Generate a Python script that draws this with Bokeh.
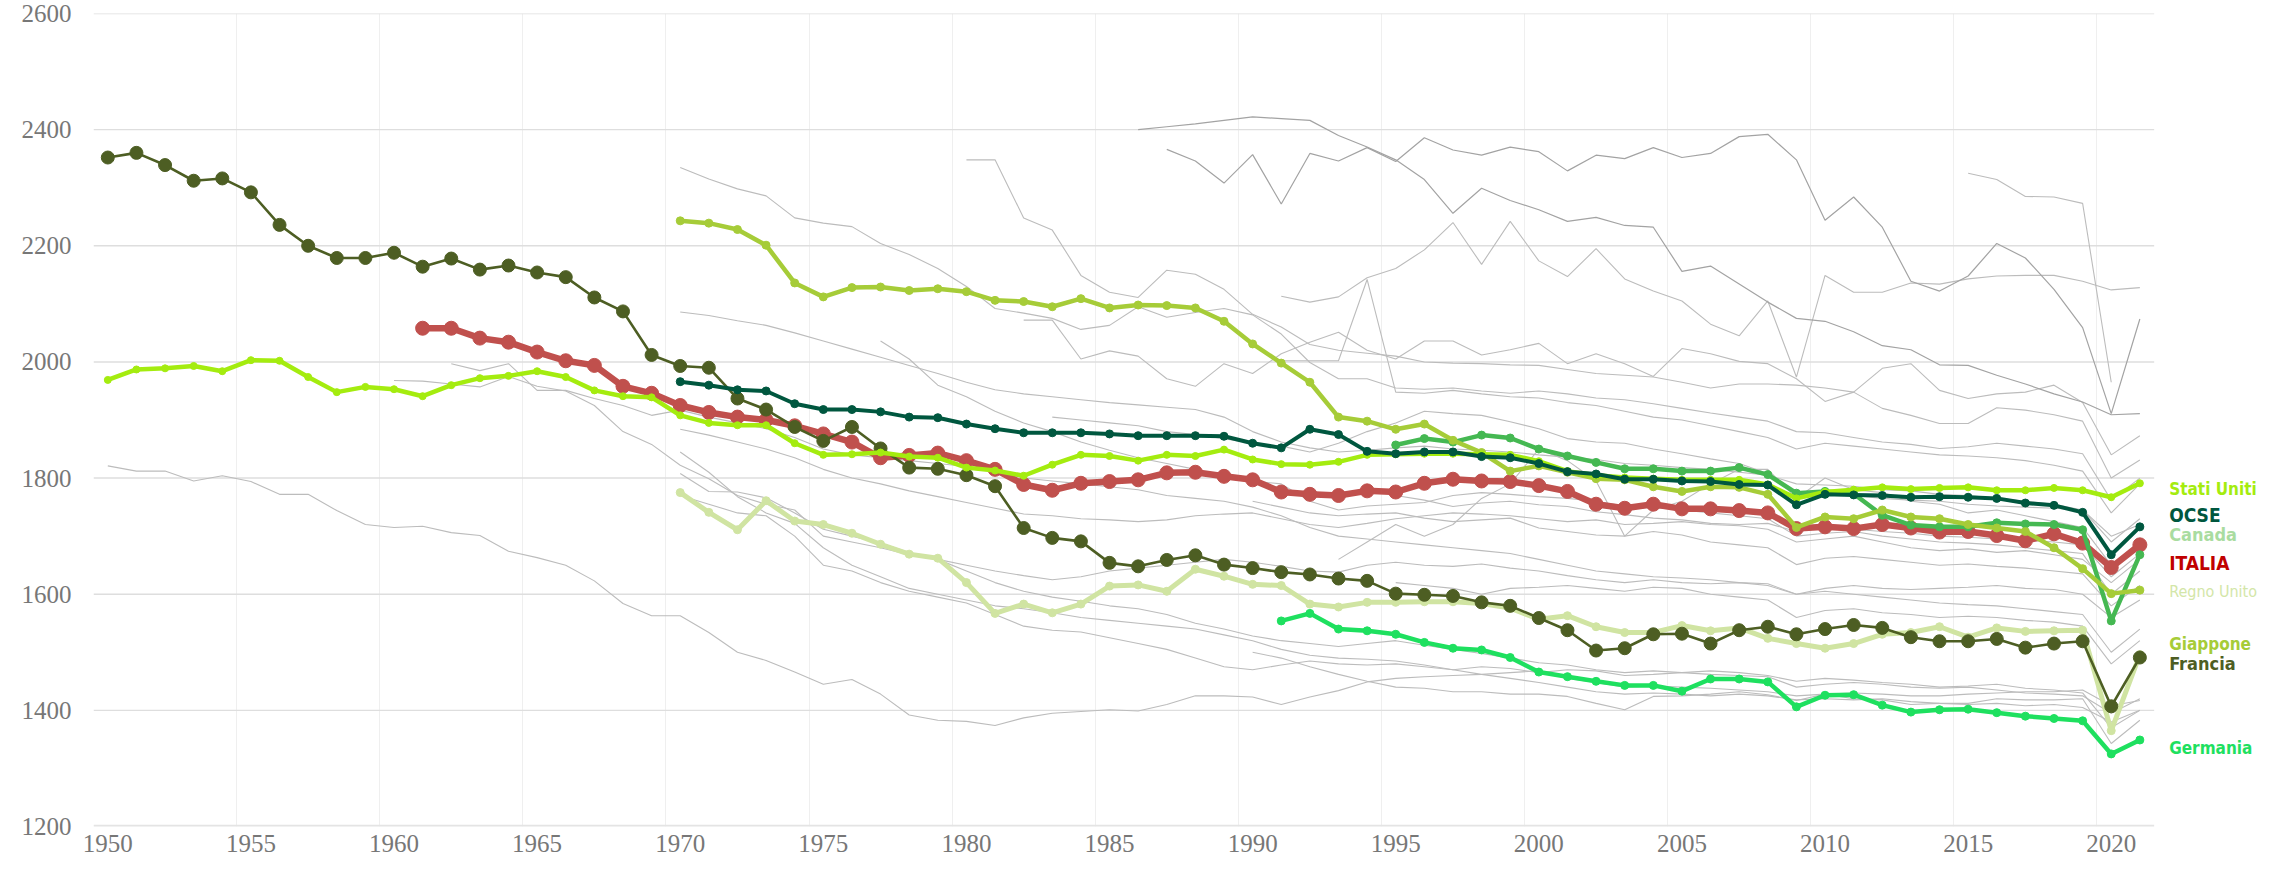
from bokeh.plotting import figure
from bokeh.models import Range1d, FixedTicker, Label
from bokeh.embed import file_html
from bokeh.resources import INLINE

# ---------------- data (annual hours worked per worker) ----------------
x_ticks = [1950, 1955, 1960, 1965, 1970, 1975, 1980, 1985, 1990, 1995, 2000, 2005, 2010, 2015, 2020]
y_ticks = [1200, 1400, 1600, 1800, 2000, 2200, 2400, 2600]

francia_start = 1950
francia = [2352, 2360, 2339, 2312, 2316, 2292, 2236, 2200, 2179, 2179,
           2188, 2164, 2178, 2159, 2166, 2154, 2146, 2111, 2087, 2012,
           1993, 1990, 1937, 1918, 1888, 1864, 1888, 1851, 1818, 1816,
           1805, 1786, 1714, 1697, 1691, 1654, 1648, 1659, 1667, 1651,
           1645, 1638, 1634, 1627, 1623, 1601, 1599, 1597, 1586, 1580,
           1559, 1538, 1503, 1507, 1531, 1532, 1515, 1538, 1544, 1531,
           1540, 1547, 1542, 1526, 1519, 1519, 1523, 1508, 1515, 1519,
           1407, 1491]

italia_start = 1961
italia = [2058, 2058, 2041, 2034, 2017, 2002, 1994, 1958, 1946,
          1925, 1913, 1905, 1900, 1890, 1876, 1862, 1835, 1839, 1843,
          1830, 1815, 1789, 1779, 1791, 1794, 1797, 1809, 1810, 1803,
          1797, 1776, 1772, 1770, 1778, 1776, 1791, 1798, 1795, 1794,
          1787, 1777, 1755, 1748, 1755, 1747, 1747, 1744, 1740, 1713,
          1716, 1713, 1720, 1714, 1707, 1708, 1701, 1692, 1704, 1688,
          1646, 1685]

ocse_start = 1970
ocse = [1966, 1960, 1952, 1950, 1928, 1918, 1918, 1914, 1905, 1904,
        1893, 1885, 1878, 1878, 1878, 1876, 1873, 1873, 1873, 1872,
        1860, 1852, 1884, 1875, 1846, 1842, 1845, 1845, 1837, 1835,
        1825, 1811, 1807, 1798, 1798, 1795, 1794, 1789, 1788, 1754,
        1772, 1771, 1770, 1767, 1768, 1767, 1765, 1757, 1753, 1741,
        1668, 1716]

usa_start = 1950
usa = [1969, 1987, 1989, 1993, 1984, 2003, 2002, 1974, 1948, 1957,
       1953, 1941, 1960, 1972, 1976, 1984, 1974, 1951, 1941, 1939,
       1908, 1895, 1891, 1891, 1860, 1840, 1841, 1844, 1837, 1835,
       1818, 1813, 1804, 1823, 1840, 1838, 1830, 1840, 1838, 1849,
       1832, 1824, 1823, 1828, 1840, 1841, 1842, 1842, 1841, 1840,
       1829, 1812, 1805, 1801, 1799, 1797, 1797, 1797, 1789, 1765,
       1776, 1780, 1784, 1781, 1783, 1784, 1779, 1779, 1783, 1779,
       1767, 1791]

giappone_start = 1970
giappone = [2243, 2239, 2228, 2201, 2136, 2112, 2128, 2129, 2123, 2126,
            2121, 2106, 2104, 2095, 2109, 2093, 2098, 2097, 2093, 2070,
            2031, 1998, 1965, 1905, 1898, 1884, 1893, 1865, 1844, 1812,
            1821, 1810, 1799, 1797, 1785, 1777, 1785, 1784, 1772, 1715,
            1733, 1730, 1745, 1733, 1730, 1720, 1714, 1708, 1680, 1644,
            1601, 1607]

regno_unito_start = 1970
regno_unito = [1775, 1741, 1711, 1761, 1726, 1720, 1705, 1686, 1669, 1662,
               1620, 1567, 1583, 1568, 1583, 1614, 1616, 1605, 1643, 1631,
               1617, 1615, 1583, 1578, 1586, 1586, 1587, 1587, 1584, 1576,
               1557, 1563, 1544, 1534, 1534, 1546, 1537, 1542, 1524, 1515,
               1507, 1515, 1531, 1534, 1544, 1526, 1542, 1536, 1537, 1538,
               1365, 1496]

canada_start = 1995
canada = [1857, 1868, 1862, 1874, 1869,
          1850, 1838, 1827, 1816, 1816, 1812, 1812, 1818, 1806, 1774,
          1777, 1773, 1736, 1719, 1716, 1716, 1723, 1721, 1720, 1711,
          1554, 1668]

germania_start = 1991
germania = [1554, 1567, 1540, 1537, 1531, 1517, 1507, 1504, 1491,
            1466, 1458, 1450, 1443, 1443, 1433, 1454, 1454, 1449, 1406,
            1426, 1427, 1409, 1397, 1401, 1402, 1396, 1390, 1386, 1382,
            1325, 1349]

# other OECD countries (grey background lines)
g_a = (1987, [2366, 2346, 2308,
              2357, 2272, 2359, 2346, 2369, 2345, 2386, 2365, 2356, 2370,
              2362, 2329, 2356, 2350, 2369, 2352, 2359, 2388, 2392, 2348,
              2244, 2284, 2232, 2139, 2122, 2148, 2204, 2179, 2125, 2059,
              1911, 2074])
g_b = (1986, [2400, 2405, 2410, 2416,
              2422, 2419, 2416, 2390, 2370, 2348, 2314, 2256, 2299, 2278,
              2262, 2242, 2249, 2235, 2232, 2156, 2165, 2134, 2103, 2075,
              2070, 2052, 2028, 2021, 1995, 1994, 1977, 1962, 1945, 1931,
              1909, 1911])
g_c = (1991, [2113, 2103, 2112, 2145, 2161, 2193, 2240, 2168, 2242,
              2174, 2147, 2195, 2143, 2122, 2105, 2065, 2045, 2105, 1974,
              2149, 2120, 2120, 2136, 2134, 2143, 2148, 2149, 2149, 2139,
              2124, 2128])
g_d = (2015, [2325, 2314, 2285, 2284, 2273, 1965])
g_e = (1982, [2072, 2072, 2005, 2019, 2010, 1971, 1958, 1997,
              1980, 2014, 2034, 2051, 2020, 2005, 2036, 2036, 2012, 2021,
              2032, 1997, 2014, 1997, 1975, 2023, 2014, 2001, 1997, 1971,
              1932, 1948, 1989, 1997, 1951, 1937, 1945, 1948, 1960, 1930,
              1840, 1873])
g_f = (1980, [2348, 2348, 2248, 2227, 2149, 2120, 2111, 2158, 2151, 2125,
              2082, 2060, 2030, 2020, 2015, 2010, 2000, 1998, 1997, 1995,
              1994, 1987, 1980, 1977, 1974, 1965, 1955, 1962, 1962, 1960,
              1955, 1948, 1920, 1908, 1894, 1894, 1921, 1917, 1909, 1898,
              1800, 1831])
g_g = (1991, [2002, 2002, 2002, 2142, 1948, 1946, 1951, 1945, 1940,
              1938, 1930, 1925, 1915, 1905, 1900, 1890, 1880, 1870, 1850,
              1860, 1855, 1850, 1845, 1840, 1838, 1835, 1830, 1822, 1812,
              1740, 1790])
g_h = (1970, [2335, 2315, 2298, 2286, 2248, 2239, 2233, 2204, 2185, 2161,
              2130, 2092, 2084, 2075, 2056, 2063, 2095, 2077, 2085, 2092,
              2081, 2048, 1999, 1971, 1971, 1955, 1953, 1955, 1950, 1946,
              1950, 1945, 1938, 1935, 1928, 1920, 1912, 1905, 1898, 1880,
              1878, 1870, 1862, 1858, 1851, 1854, 1860, 1855, 1850, 1842,
              1762, 1800])
g_i = (1970, [2086, 2080, 2071, 2063, 2050, 2036, 2022, 2008, 1994, 1980,
              1965, 1952, 1945, 1940, 1935, 1930, 1926, 1922, 1918, 1905,
              1880, 1862, 1852, 1845, 1848, 1852, 1855, 1850, 1848, 1845,
              1840, 1836, 1832, 1825, 1822, 1818, 1815, 1810, 1805, 1790,
              1788, 1786, 1780, 1778, 1772, 1770, 1765, 1760, 1755, 1745,
              1690, 1730])
g_j = (1977, [2036, 2005, 1960,
              1940, 1915, 1895, 1880, 1862, 1848, 1835, 1825, 1815, 1800,
              1795, 1790, 1760, 1745, 1752, 1755, 1758, 1770, 1775, 1772,
              1768, 1765, 1760, 1752, 1750, 1745, 1740, 1735, 1730, 1700,
              1705, 1708, 1700, 1695, 1690, 1688, 1685, 1680, 1675, 1670,
              1600, 1640])
g_l1 = (1970, [1884, 1874, 1862, 1850, 1835, 1815, 1800, 1790, 1778, 1768,
               1758, 1748, 1738, 1735, 1730, 1728, 1725, 1728, 1735, 1738,
               1740, 1730, 1720, 1715, 1722, 1730, 1735, 1740, 1738, 1735,
               1730, 1725, 1728, 1720, 1722, 1725, 1720, 1718, 1712, 1690,
               1695, 1700, 1690, 1680, 1675, 1678, 1672, 1675, 1668, 1660,
               1620, 1660])
g_l2 = (1960, [1968, 1967, 1962, 1957, 1975, 1958, 1950, 1925, 1880, 1858,
               1822, 1799, 1770, 1755, 1745, 1700, 1690, 1680, 1668, 1660,
               1650, 1640, 1632, 1625, 1630, 1640, 1645, 1650, 1655, 1660,
               1655, 1648, 1640, 1638, 1650, 1655, 1650, 1648, 1652, 1645,
               1640, 1632, 1625, 1620, 1625, 1620, 1618, 1620, 1615, 1600,
               1610, 1615, 1610, 1608, 1610, 1612, 1615, 1610, 1608, 1600,
               1560, 1590])
g_l3 = (1970, [1845, 1810, 1768, 1740, 1722, 1680, 1650, 1630, 1610, 1600,
               1590, 1580, 1575, 1568, 1560, 1555, 1550, 1545, 1540, 1530,
               1520, 1505, 1495, 1490, 1488, 1485, 1478, 1470, 1462, 1455,
               1448, 1440, 1432, 1428, 1430, 1428, 1425, 1428, 1425, 1418,
               1420, 1418, 1420, 1415, 1412, 1410, 1412, 1408, 1410, 1405,
               1380, 1400])
g_l4 = (1970, [1808, 1777, 1776, 1766, 1740, 1712, 1700, 1688, 1672, 1660,
               1640, 1620, 1605, 1595, 1588, 1580, 1575, 1565, 1550, 1540,
               1528, 1520, 1515, 1510, 1515, 1520, 1512, 1505, 1498, 1490,
               1482, 1478, 1470, 1465, 1468, 1465, 1462, 1460, 1458, 1440,
               1445, 1448, 1445, 1440, 1438, 1440, 1435, 1430, 1428, 1425,
               1395, 1420])
g_l7 = (1970, [1770, 1755, 1740, 1735, 1700, 1650, 1640, 1620, 1605, 1595,
               1585, 1565, 1545, 1538, 1535, 1525, 1515, 1505, 1490, 1475,
               1470, 1478, 1485, 1480, 1478, 1480, 1475, 1470, 1475, 1472,
               1465, 1470, 1468, 1460, 1462, 1465, 1468, 1465, 1460, 1450,
               1455, 1452, 1448, 1445, 1440, 1442, 1445, 1438, 1435, 1430,
               1370, 1400])
g_nl = (1950, [1821, 1812, 1812, 1795, 1804, 1794, 1772, 1772, 1744, 1720,
               1715, 1717, 1706, 1701, 1674, 1663, 1650, 1623, 1584, 1563,
               1563, 1534, 1500, 1486, 1466, 1445, 1453, 1428, 1392, 1383,
               1381, 1374, 1387, 1395, 1398, 1401, 1399, 1410, 1425, 1425,
               1423, 1410, 1423, 1434, 1449, 1455, 1458, 1460, 1462, 1465,
               1468, 1455, 1448, 1440, 1442, 1440, 1438, 1435, 1432, 1425,
               1428, 1430, 1428, 1425, 1425, 1428, 1430, 1432, 1432, 1435,
               1408, 1417])
g_l5 = (1990, [1500, 1490, 1475, 1462, 1450, 1440, 1438, 1432, 1432, 1428,
               1428, 1424, 1412, 1401, 1424, 1425, 1428, 1432, 1427, 1417,
               1428, 1420, 1418, 1410, 1412, 1412, 1420, 1418, 1418, 1420,
               1343, 1383])
g_m1 = (1983, [1905, 1900, 1895, 1890, 1880, 1875, 1868,
               1860, 1855, 1845, 1860, 1880, 1895, 1915, 1911, 1908, 1897,
               1885, 1868, 1862, 1860, 1850, 1842, 1833, 1825, 1808, 1776,
               1771, 1770, 1765, 1762, 1760, 1755, 1752, 1750, 1748, 1745,
               1700, 1720])
g_m2 = (1995, [1770, 1762, 1751, 1757, 1760,
               1754, 1751, 1742, 1737, 1731, 1728, 1722, 1720, 1722, 1708,
               1714, 1712, 1708, 1705, 1700, 1698, 1695, 1693, 1690, 1685,
               1630, 1670])
g_m3 = (1990, [1760, 1750, 1740, 1735, 1738, 1740, 1731, 1725, 1728, 1731,
               1714, 1708, 1702, 1700, 1708, 1702, 1690, 1685, 1680, 1651,
               1662, 1665, 1660, 1655, 1650, 1652, 1648, 1645, 1640, 1635,
               1580, 1615])
g_m4 = (1993, [1660, 1690, 1720, 1700, 1720, 1765, 1790,
               1850, 1830, 1795, 1700, 1745, 1760, 1790, 1815, 1815, 1765,
               1800, 1780, 1775, 1760, 1755, 1740, 1745, 1735, 1725, 1715,
               1650, 1690])
g_p1 = (1995, [1620, 1615, 1610, 1600, 1610,
               1612, 1615, 1610, 1605, 1612, 1610, 1600, 1595, 1590, 1560,
               1572, 1575, 1568, 1565, 1560, 1562, 1560, 1555, 1552, 1545,
               1480, 1520])
g_e1 = (1962, [1997, 1985, 1997, 1951, 1951, 1937, 1925, 1908,
               1917, 1905, 1895, 1885, 1870, 1850, 1840, 1835, 1830, 1825,
               1820, 1810, 1800, 1795, 1790, 1785, 1780, 1770, 1765, 1760,
               1750, 1735, 1715, 1700, 1695, 1690, 1685, 1680, 1675, 1670,
               1660, 1650, 1640, 1635, 1630, 1628, 1625, 1620, 1618, 1600,
               1605, 1600, 1595, 1590, 1585, 1582, 1580, 1575, 1570, 1565,
               1500, 1540])

grey_dark = [g_a, g_b]
grey_light = [g_c, g_d, g_e, g_f, g_g, g_h, g_i, g_j, g_l1, g_l2, g_l3, g_l4,
              g_l7, g_nl, g_l5, g_m1, g_m2, g_m3, g_m4, g_p1, g_e1]

# ---------------- layout constants ----------------
X_START, X_DATA_END, X_FRAME_END = 1949.5, 2021.5, 2025.25
LABEL_FONT = "'DejaVu Sans Condensed', 'Liberation Sans Narrow', Roboto, sans-serif"

p = figure(width=2261, height=864, output_backend="svg", toolbar_location=None,
           x_range=Range1d(X_START, X_FRAME_END), y_range=Range1d(1200, 2600),
           min_border_left=93, min_border_right=0, min_border_top=13,
           min_border_bottom=38)
p.outline_line_color = None
p.background_fill_color = "white"
p.border_fill_color = "white"

p.xaxis.ticker = FixedTicker(ticks=x_ticks)
p.yaxis.ticker = FixedTicker(ticks=y_ticks)
p.ygrid.grid_line_color = None
p.xgrid.ticker = FixedTicker(ticks=[t - 0.5 for t in x_ticks])
p.xgrid.grid_line_color = "#efefef"
p.xgrid.grid_line_width = 1

for ax in (p.xaxis[0], p.yaxis[0]):
    ax.major_tick_line_color = None
    ax.minor_tick_line_color = None
    ax.major_tick_out = 0
    ax.major_tick_in = 0
    ax.minor_tick_out = 0
    ax.minor_tick_in = 0
    ax.axis_line_color = None
    ax.major_label_text_font = "Liberation Serif"
    ax.major_label_text_font_size = "25px"
    ax.major_label_text_color = "#777777"
p.yaxis.major_label_standoff = 22
p.xaxis.major_label_standoff = 8

# horizontal grid only over the data area
grid_y = [t for t in y_ticks if t != y_ticks[0]]
p.segment(x0=[X_START] * len(grid_y), x1=[X_DATA_END] * len(grid_y), y0=grid_y, y1=grid_y,
          line_color="#dedede", line_width=1.4)
p.segment(x0=[X_START], x1=[X_DATA_END], y0=[y_ticks[0]], y1=[y_ticks[0]],
          line_color="#e4e4e4", line_width=3.5)

def yrs(start, vals):
    return list(range(start, start + len(vals)))

for start, vals in grey_light:
    p.line(yrs(start, vals), vals, line_color="#bcbcbc", line_width=1.1)
for start, vals in grey_dark:
    p.line(yrs(start, vals), vals, line_color="#a3a3a3", line_width=1.2)

series = [
    (germania_start, germania, "#1ee05f", 4.5, 8),
    (regno_unito_start, regno_unito, "#d0e4a2", 5, 8),
    (italia_start, italia, "#c0504d", 6.5, 14),
    (francia_start, francia, "#4d5e23", 2.6, 13),
    (canada_start, canada, "#45b852", 4.5, 8),
    (giappone_start, giappone, "#a6cc38", 4.5, 8),
    (usa_start, usa, "#a4ec0f", 4.5, 7),
    (ocse_start, ocse, "#00573f", 4, 8),
]
for start, vals, col, lw, ms in series:
    xs = yrs(start, vals)
    p.line(xs, vals, line_color=col, line_width=lw)
    p.scatter(xs, vals, size=ms, fill_color=col, line_color=col)

labels = [
    ("Stati Uniti", 1782, "#a4ec0f", "bold", "17px"),
    ("OCSE", 1737, "#00573f", "bold", "19px"),
    ("Canada", 1703, "#a9dca0", "bold", "18px"),
    ("ITALIA", 1653, "#c00000", "bold", "19px"),
    ("Regno Unito", 1605, "#d3e6a8", "normal", "16px"),
    ("Giappone", 1514, "#a6cc38", "bold", "17px"),
    ("Francia", 1480, "#4d5e23", "bold", "18px"),
    ("Germania", 1335, "#1ee05f", "bold", "17px"),
]
for txt, yv, col, style, size in labels:
    p.add_layout(Label(x=X_DATA_END, y=yv, x_offset=15, text=txt, text_color=col,
                       text_font=LABEL_FONT, text_font_style=style,
                       text_font_size=size, text_baseline="middle", text_align="left"))

open("out.html", "w").write(file_html(p, INLINE))
